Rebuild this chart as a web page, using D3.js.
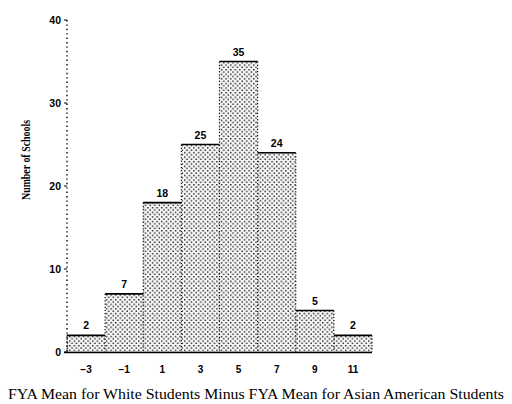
<!DOCTYPE html>
<html><head><meta charset="utf-8">
<script src="https://cdn.jsdelivr.net/npm/d3@7"></script>
<style>body{margin:0;background:#fff}</style>
</head><body>
<svg id="c" width="512" height="404"></svg>
<script>
const binStarts = [-4, -2, 0, 2, 4, 6, 8, 10];
const counts = [2, 7, 18, 25, 35, 24, 5, 2];
const tickValues = [-3, -1, 1, 3, 5, 7, 9, 11];
const tickLabels = ["\u22123", "\u22121", "1", "3", "5", "7", "9", "11"];
const yTicks = [0, 10, 20, 30, 40];

const svg = d3.select("#c");
const x = d3.scaleLinear().domain([-4, 12]).range([67, 372]);
const y = d3.scaleLinear().domain([0, 40]).range([352, 20]);

const defs = svg.append("defs");
const pat = defs.append("pattern").attr("id","dots").attr("patternUnits","userSpaceOnUse")
  .attr("width",4.6).attr("height",4.6);
pat.append("rect").attr("width",4.6).attr("height",4.6).attr("fill","#f7f7f7");
pat.append("rect").attr("x",0).attr("y",0).attr("width",1.4).attr("height",1.4).attr("fill","#1a1a1a");
pat.append("rect").attr("x",2.3).attr("y",2.3).attr("width",1.4).attr("height",1.4).attr("fill","#1a1a1a");

const bars = binStarts.map((s,i)=>({x0:s, x1:s+2, v:counts[i]}));

svg.selectAll("rect.bar").data(bars).enter().append("rect").attr("class","bar")
  .attr("x", d=>x(d.x0)).attr("y", d=>y(d.v))
  .attr("width", d=>x(d.x1)-x(d.x0)).attr("height", d=>y(0)-y(d.v))
  .attr("fill","url(#dots)");

// vertical dotted sides
svg.selectAll("line.side").data(bars).enter().append("line")
  .attr("x1", d=>x(d.x0)).attr("x2", d=>x(d.x0))
  .attr("y1", (d,i)=>y(Math.max(d.v, i>0?bars[i-1].v:0))).attr("y2", y(0))
  .attr("stroke","#111").attr("stroke-width",1.2).attr("stroke-dasharray","1.2,2");
svg.append("line").attr("x1",x(12)).attr("x2",x(12)).attr("y1",y(2)).attr("y2",y(0))
  .attr("stroke","#111").attr("stroke-width",1.2).attr("stroke-dasharray","1.2,2");

// top edges
svg.selectAll("line.top").data(bars).enter().append("line")
  .attr("x1", d=>x(d.x0)).attr("x2", d=>x(d.x1))
  .attr("y1", d=>y(d.v)).attr("y2", d=>y(d.v))
  .attr("stroke","#000").attr("stroke-width",1.6);

// baseline
svg.append("line").attr("x1",x(-4)-3).attr("x2",x(12)).attr("y1",y(0)+0.5).attr("y2",y(0)+0.5)
  .attr("stroke","#000").attr("stroke-width",1.4);

// value labels
svg.selectAll("text.val").data(bars).enter().append("text")
  .attr("x", d=>x(d.x0+1)).attr("y", d=>y(d.v)-6)
  .attr("text-anchor","middle").attr("font-family","Liberation Sans, Arial, sans-serif")
  .attr("font-weight","bold").attr("font-size",10.5).text(d=>d.v);

// y axis
svg.append("line").attr("x1",67).attr("x2",67).attr("y1",y(40)).attr("y2",y(0))
  .attr("stroke","#000").attr("stroke-width",1.4).attr("stroke-dasharray","1.4,3");
const yAxis = svg.append("g");
yAxis.selectAll("line").data(yTicks).enter().append("line")
  .attr("x1",64).attr("x2",67).attr("y1",d=>y(d)).attr("y2",d=>y(d))
  .attr("stroke","#000").attr("stroke-width",1);
yAxis.selectAll("text").data(yTicks).enter().append("text")
  .attr("x",61).attr("y",d=>y(d)+3.8).attr("text-anchor","end")
  .attr("font-family","Liberation Sans, Arial, sans-serif").attr("font-weight","bold")
  .attr("font-size",10.5).text(d=>d);

// x tick labels
svg.selectAll("text.xt").data(tickValues).enter().append("text")
  .attr("x", d=>x(d)).attr("y",373).attr("text-anchor","middle")
  .attr("font-family","Liberation Sans, Arial, sans-serif").attr("font-weight","bold")
  .attr("font-size",10).text((d,i)=>tickLabels[i]);

// titles
svg.append("text").attr("x",256).attr("y",399).attr("text-anchor","middle")
  .attr("font-family","Liberation Serif, Times New Roman, serif").attr("font-size",14.5)
  .attr("textLength",496).attr("lengthAdjust","spacingAndGlyphs")
  .text("FYA Mean for White Students Minus FYA Mean for Asian American Students");
svg.append("text").attr("transform","translate(30,160) rotate(-90)").attr("text-anchor","middle")
  .attr("font-family","Liberation Serif, Times New Roman, serif").attr("font-size",11.5)
  .attr("font-weight","bold").attr("textLength",80).attr("lengthAdjust","spacingAndGlyphs")
  .text("Number of Schools");
</script>
</body></html>
